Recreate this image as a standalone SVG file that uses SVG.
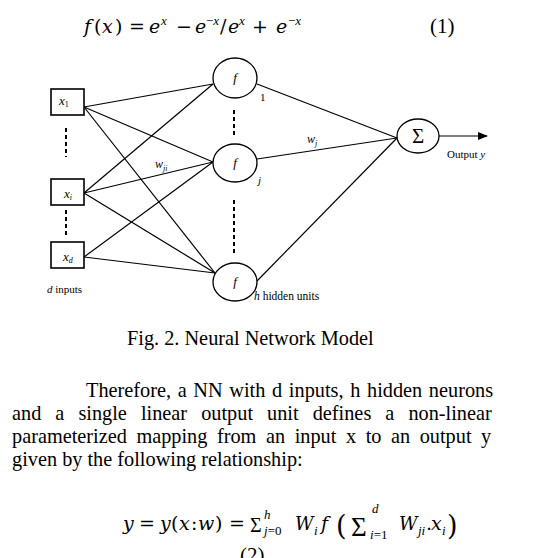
<svg xmlns="http://www.w3.org/2000/svg" width="556" height="558" viewBox="0 0 556 558">
<style>
.t{font-family:"Liberation Serif","Times New Roman",serif;fill:#000}
.i{font-style:italic}
.m{font-family:"DejaVu Serif",serif;fill:#000;font-size:19px}
.s{font-family:"Liberation Serif","Times New Roman",serif;fill:#000;font-size:13px}
.box{fill:#fff;stroke:#000;stroke-width:1.6}
.nd{fill:#fff;stroke:#000;stroke-width:1.3}
.ln{stroke:#000;stroke-width:1.2;fill:none}
.ds{stroke:#000;stroke-width:2;stroke-dasharray:4,3;fill:none}
</style>
<defs>
<marker id="ah" markerWidth="10" markerHeight="8" refX="9" refY="4" orient="auto" markerUnits="userSpaceOnUse">
<path d="M0,0 L10,4 L0,8 Z" fill="#000"/>
</marker>
</defs>
<rect width="556" height="558" fill="#fff"/>

<g id="equation1">
<text class="m i" x="84" y="33">f</text>
<text class="m" x="94" y="33">(</text>
<text class="m i" x="102" y="33">x</text>
<text class="m" x="115" y="33">)</text>
<text class="m" x="129" y="33">=</text>
<text class="m i" x="149" y="33">e</text>
<text class="s i" x="161" y="25">x</text>
<text class="m" x="176" y="33">−</text>
<text class="m i" x="195" y="33">e</text>
<text class="s" x="206" y="25">−<tspan class="i">x</tspan></text>
<text class="m" x="220" y="33">/</text>
<text class="m i" x="228" y="33">e</text>
<text class="s i" x="239" y="25">x</text>
<text class="m" x="252" y="33">+</text>
<text class="m i" x="276" y="33">e</text>
<text class="s" x="288" y="25">−<tspan class="i">x</tspan></text>
<text class="t" x="430" y="33" font-size="21">(1)</text>
</g>

<g id="connectors">
<line class="ln" x1="84" y1="107" x2="213" y2="84"/>
<line class="ln" x1="84" y1="107" x2="213" y2="162"/>
<line class="ln" x1="84" y1="107" x2="215" y2="273"/>
<line class="ln" x1="84" y1="193" x2="213" y2="84"/>
<line class="ln" x1="84" y1="193" x2="213" y2="162"/>
<line class="ln" x1="84" y1="193" x2="215" y2="273"/>
<line class="ln" x1="84" y1="257" x2="213" y2="162"/>
<line class="ln" x1="84" y1="257" x2="215" y2="273"/>
<line class="ln" x1="257" y1="84" x2="397" y2="138"/>
<line class="ln" x1="257" y1="159" x2="397" y2="138"/>
<line class="ln" x1="257" y1="281" x2="397" y2="138"/>
<line class="ln" x1="439" y1="136" x2="487" y2="136" marker-end="url(#ah)"/>
<line class="ds" x1="66" y1="128" x2="66" y2="157"/>
<line class="ds" x1="66" y1="210" x2="66" y2="235"/>
<line class="ds" x1="234" y1="110" x2="234" y2="136"/>
<line class="ds" x1="234" y1="200" x2="234" y2="253"/>
<text class="t i" x="307" y="143" font-size="12">w<tspan font-size="8" dy="3">j</tspan></text>
<text class="t i" x="155" y="168" font-size="12">w<tspan font-size="8" dy="3">ji</tspan></text>
</g>

<g id="input-x1">
<rect class="box" x="51" y="89" width="33" height="26"/>
<text class="t i" x="59" y="105" font-size="13">x<tspan font-size="8" dy="2" font-style="normal">1</tspan></text>
</g>
<g id="input-xi">
<rect class="box" x="51" y="179" width="33" height="26"/>
<text class="t i" x="64" y="198" font-size="13">x<tspan font-size="8" dy="2">i</tspan></text>
</g>
<g id="input-xd">
<rect class="box" x="51" y="242" width="33" height="26"/>
<text class="t i" x="63" y="261" font-size="13">x<tspan font-size="8" dy="2">d</tspan></text>
</g>
<text class="t" x="47" y="293" font-size="11"><tspan class="i">d</tspan> inputs</text>

<g id="hidden-1">
<ellipse class="nd" cx="235" cy="78" rx="22" ry="20"/>
<text class="t i" x="235" y="82" font-size="13" text-anchor="middle">f</text>
<text class="t" x="260" y="101" font-size="11">1</text>
</g>
<g id="hidden-j">
<ellipse class="nd" cx="235" cy="163" rx="22" ry="19"/>
<text class="t i" x="235" y="167" font-size="13" text-anchor="middle">f</text>
<text class="t i" x="258" y="184" font-size="11">j</text>
</g>
<g id="hidden-h">
<ellipse class="nd" cx="235" cy="282" rx="22" ry="19"/>
<text class="t i" x="235" y="286" font-size="13" text-anchor="middle">f</text>
<text class="t" x="254" y="300" font-size="11.5"><tspan class="i">h</tspan>  hidden units</text>
</g>
<g id="output">
<ellipse class="nd" cx="418" cy="136" rx="21" ry="17"/>
<text class="t" x="418" y="143" font-size="21" text-anchor="middle">Σ</text>
<text class="t" x="447" y="158" font-size="11">Output <tspan class="i">y</tspan></text>
</g>

<text class="t" x="127" y="345" font-size="20.3">Fig. 2. Neural Network Model</text>

<g id="paragraph" class="t" font-size="20.3">
<text x="86" y="397" word-spacing="1.6">Therefore, a NN with d inputs, h hidden neurons</text>
<text x="12" y="420" word-spacing="9">and a single linear output unit defines a non-linear</text>
<text x="12" y="443" word-spacing="4.5">parameterized mapping from an input x to an output y</text>
<text x="12" y="466">given by the following relationship:</text>
</g>

<g id="equation2">
<text class="m i" x="123" y="530">y</text>
<text class="m" x="139" y="530">=</text>
<text class="m i" x="160" y="530">y</text>
<text class="m" x="171" y="530">(</text>
<text class="m i" x="179" y="530">x</text>
<text class="m" x="191" y="530">:</text>
<text class="m i" x="198" y="530">w</text>
<text class="m" x="215" y="530">)</text>
<text class="m" x="229" y="530">=</text>
<text class="t" x="250" y="532" style="font-size:20px">Σ</text>
<text class="s i" x="264" y="519">h</text>
<text class="s" x="264" y="535"><tspan class="i">j</tspan>=0</text>
<text class="m i" x="295" y="530" style="font-size:18px">W</text>
<text class="s i" x="314" y="535">i</text>
<text class="m i" x="321" y="530">f</text>
<text class="m" x="336" y="535" style="font-size:27px">(</text>
<text class="t" x="351" y="536" style="font-size:27px">Σ</text>
<text class="s i" x="372" y="513">d</text>
<text class="s" x="370" y="539"><tspan class="i">i</tspan>=1</text>
<text class="m i" x="399" y="530" style="font-size:18px">W</text>
<text class="s i" x="418" y="535">ji</text>
<text class="m" x="426" y="530">.</text>
<text class="m i" x="431" y="530">x</text>
<text class="s i" x="442" y="535">i</text>
<text class="m" x="447" y="535" style="font-size:27px">)</text>
<text class="t" x="240" y="562" font-size="21">(2)</text>
</g>
</svg>
